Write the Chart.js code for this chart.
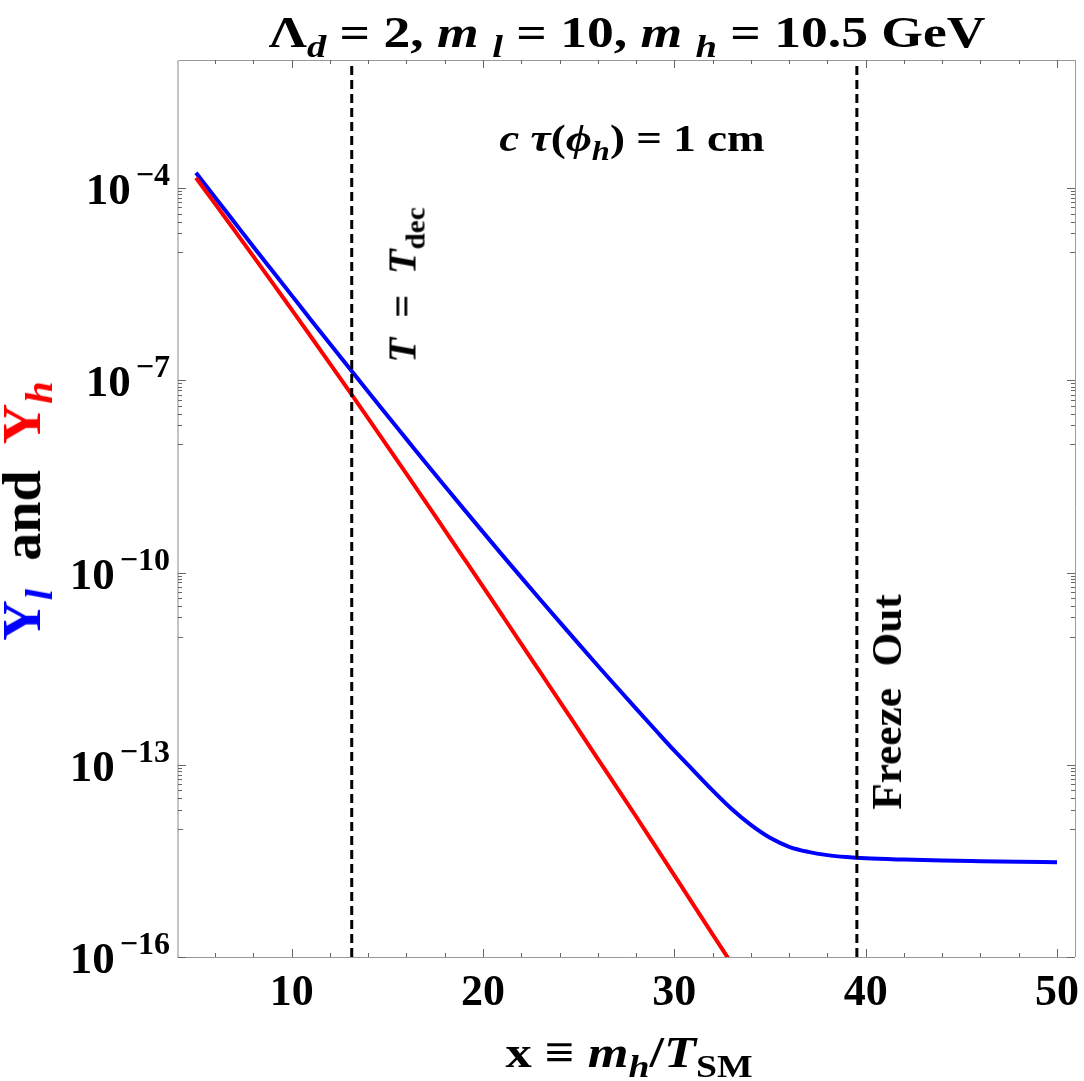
<!DOCTYPE html>
<html><head><meta charset="utf-8">
<script src="https://cdn.jsdelivr.net/npm/chart.js@4.4.1/dist/chart.umd.min.js"></script>
<style>
html,body{margin:0;padding:0;background:#fff;}
#wrap{position:relative;width:1084px;height:1081px;overflow:hidden;background:#fff;}
canvas{position:absolute;left:0;top:0;}
.t{position:absolute;font-family:"Liberation Serif","Times New Roman",serif;font-weight:bold;white-space:pre;color:#000;line-height:1;transform-origin:50% 50%;}
.sub{font-size:0.72em;position:relative;top:0.32em;}
i{font-style:italic;}
</style></head>
<body><div id="wrap"><canvas id="c" width="1084" height="1081"></canvas>
<div class="t" id="title" style="font-size:45px;left:627px;top:32px;transform:translate(-50%,-50%) scaleX(1.19)">Λ<span class="sub"><i>d</i></span> = 2, <i>m</i> <span class="sub"><i>l</i></span> = 10, <i>m</i> <span class="sub"><i>h</i></span> = 10.5 GeV</div>
<div class="t" id="ctau" style="font-size:37px;left:632px;top:138px;transform:translate(-50%,-50%) scaleX(1.22)"><i>c</i> <i>τ</i>(<i>ϕ</i><span class="sub"><i>h</i></span>) = 1 cm</div>
<div class="t" id="tdec" style="font-size:39px;left:402px;top:285px;transform:translate(-50%,-50%) rotate(-90deg) scaleX(1.04)"><i>T</i>  =  <i>T</i><span class="sub">dec</span></div>
<div class="t" id="fo" style="font-size:42px;left:887px;top:702px;transform:translate(-50%,-50%) rotate(-90deg) scaleX(1.03)">Freeze  Out</div>
<div class="t" id="ytitle" style="font-size:54px;left:22px;top:511px;transform:translate(-50%,-50%) rotate(-90deg) scaleX(1.04)"><span style="color:#0000ff">Y<span class="sub"><i>l</i></span></span>  and  <span style="color:#ff0000">Y<span class="sub"><i>h</i></span></span></div>
<div class="t" id="xtitle" style="font-size:44px;left:629px;top:1053px;transform:translate(-50%,-50%) scaleX(1.19)">x ≡ <i>m</i><span class="sub"><i>h</i></span>/<i>T</i><span class="sub">SM</span></div>
</div>
<script>
// ---- data ----
const xBlue = [5,6,7,8,9,10,11,12,13,14,15,16,17,18,19,20,21,22,23,24,25,26,27,28,29,30,31,32,33,34,35,36,37,38,39,40,42,44,46,48,50];
const yBlue = [1.74e-4,7.16e-5,2.96e-5,1.22e-5,5.08e-6,2.12e-6,8.85e-7,3.72e-7,1.57e-7,6.64e-8,2.82e-8,1.21e-8,5.19e-9,2.24e-9,9.77e-10,4.29e-10,1.89e-10,8.41e-11,3.77e-11,1.70e-11,7.71e-12,3.52e-12,1.62e-12,7.52e-13,3.52e-13,1.66e-13,8.13e-14,3.98e-14,2.04e-14,1.15e-14,7.24e-15,5.25e-15,4.37e-15,3.89e-15,3.63e-15,3.47e-15,3.31e-15,3.20e-15,3.13e-15,3.07e-15,3.02e-15];
const xRed = [5,6,7,8,9,10,11,12,13,14,15,16,17,18,19,20,21,22,23,24,25,26,27,28,29,30,31,32,33];
const yRed = [1.45e-4,5.69e-5,2.22e-5,8.63e-6,3.33e-6,1.27e-6,4.84e-7,1.83e-7,6.85e-8,2.55e-8,9.44e-9,3.47e-9,1.27e-9,4.61e-10,1.67e-10,6.03e-11,2.16e-11,7.73e-12,2.76e-12,9.86e-13,3.50e-13,1.24e-13,4.41e-14,1.56e-14,5.42e-15,1.88e-15,6.52e-16,2.26e-16,7.83e-17];
const vLines = [13.14, 39.54];
const xTicks = [10, 20, 30, 40, 50];
const xMinorStep = 2;
const yTickExps = [-4, -7, -10, -13, -16];
const xRange = [4.06, 50.94];
const yRange = [1e-16, 1e-2];

const pts = (xs, ys) => xs.map((x, i) => ({x: x, y: ys[i]}));

const datasets = [
  {data: pts(xBlue, yBlue), borderColor: '#0000ff', borderWidth: 4, pointRadius: 0, cubicInterpolationMode: 'monotone', order: 2, clip: 0},
  {data: pts(xRed, yRed), borderColor: '#ff0000', borderWidth: 4, pointRadius: 0, cubicInterpolationMode: 'monotone', order: 1, clip: 0}
];
vLines.forEach(v => datasets.push({
  data: [{x: v, y: yRange[0]}, {x: v, y: yRange[1]}],
  borderColor: '#000', borderWidth: 3, borderDash: [9, 5], pointRadius: 0, order: 0, clip: 3
}));

const frame = {
  id: 'frame',
  afterDraw(chart) {
    const ctx = chart.ctx, a = chart.chartArea;
    const xs = chart.scales.x, ys = chart.scales.y;
    ctx.save();
    ctx.lineWidth = 1;
    ctx.strokeStyle = '#999';
    ctx.beginPath();
    ctx.moveTo(a.left, a.top + 0.5); ctx.lineTo(a.right, a.top + 0.5);
    ctx.moveTo(a.left, a.bottom + 0.5); ctx.lineTo(a.right, a.bottom + 0.5);
    ctx.moveTo(a.right + 0.5, a.top); ctx.lineTo(a.right + 0.5, a.bottom);
    ctx.stroke();
    ctx.strokeStyle = '#c4c4c4'; ctx.lineWidth = 2;
    ctx.beginPath(); ctx.moveTo(a.left, a.top); ctx.lineTo(a.left, a.bottom + 1); ctx.stroke();
    ctx.strokeStyle = '#666'; ctx.lineWidth = 1;
    ctx.beginPath();
    for (let v = Math.ceil(xRange[0] / xMinorStep) * xMinorStep; v <= xRange[1]; v += xMinorStep) {
      const px = Math.round(xs.getPixelForValue(v)) + 0.5;
      const len = xTicks.includes(v) ? 8 : 4;
      ctx.moveTo(px, a.bottom); ctx.lineTo(px, a.bottom - len);
      ctx.moveTo(px, a.top); ctx.lineTo(px, a.top + len);
    }
    yTickExps.forEach(e => {
      for (let m = 1; m <= 10; m++) {
        const val = m === 10 ? Math.pow(10, e) : m * Math.pow(10, e - 1);
        if (val < yRange[0] || val > yRange[1]) continue;
        const py = Math.round(ys.getPixelForValue(val)) + 0.5;
        const len = m === 10 ? 8 : (m === 1 ? 5 : 4);
        ctx.moveTo(a.left, py); ctx.lineTo(a.left + len, py);
        ctx.moveTo(a.right, py); ctx.lineTo(a.right - len, py);
      }
    });
    ctx.stroke();
    ctx.fillStyle = '#000';
    ctx.font = 'bold 44px "Liberation Serif"';
    ctx.textAlign = 'center'; ctx.textBaseline = 'alphabetic';
    xTicks.forEach(v => ctx.fillText(String(v), xs.getPixelForValue(v), 1005));
    yTickExps.forEach(e => {
      const py = ys.getPixelForValue(Math.pow(10, e));
      const ex = '\u2212' + Math.abs(e);
      ctx.font = 'bold 32px "Liberation Serif"';
      ctx.textAlign = 'right';
      const w = ctx.measureText(ex).width;
      ctx.fillText(ex, 170, py - 3);
      ctx.font = 'bold 45px "Liberation Serif"';
      ctx.fillText('10', 170 - w - 5, py + 16);
    });
    ctx.restore();
  }
};

new Chart(document.getElementById('c'), {
  type: 'line',
  data: {datasets: datasets},
  options: {
    responsive: false, animation: false, devicePixelRatio: 1,
    layout: {padding: {left: 178, right: 9, top: 60, bottom: 124}},
    plugins: {legend: {display: false}, tooltip: {enabled: false}, title: {display: false}},
    scales: {
      x: {type: 'linear', min: xRange[0], max: xRange[1], display: false},
      y: {type: 'logarithmic', min: yRange[0], max: yRange[1], display: false}
    }
  },
  plugins: [frame]
});
</script>
</body></html>
